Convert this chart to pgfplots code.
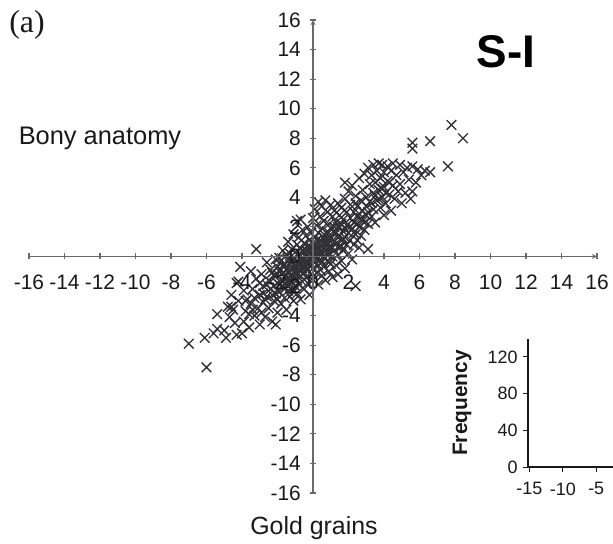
\documentclass[border=0pt]{standalone}
\usepackage{pgfplots}
\pgfplotsset{compat=1.18}
\usepackage{fontspec}
\setmainfont{Liberation Sans}
\newfontfamily\seriffont{Liberation Serif}
\definecolor{axisgray}{RGB}{105,105,105}
\definecolor{markgray}{RGB}{48,48,54}
\definecolor{textdark}{RGB}{25,25,25}
\pgfplotstableread[row sep=\\]{
x y\\
-7.0 -5.9\\ -6.0 -7.5\\ -6.1 -5.5\\ -5.4 -3.9\\ -5.4 -4.9\\ -4.9 -5.5\\ -4.3 -5.3\\ -4.0 -5.2\\
-5.6 -5.2\\ -5.0 -5.0\\ -4.7 -4.1\\ -4.5 -3.6\\ -4.4 -4.5\\ -4.8 -3.4\\ -4.2 -3.0\\ -4.1 -0.7\\
-4.6 -2.6\\ -4.3 -1.8\\ -4.6 -3.4\\ -3.8 -3.0\\ -4.2 -1.7\\
-3.9 -4.4\\ -3.8 -3.7\\ -3.7 -2.9\\ -3.6 -4.8\\ -3.5 -3.2\\ -3.4 -2.2\\ -3.3 -4.0\\ -3.2 -1.5\\
-3.2 0.5\\ -3.1 -3.5\\ -3.0 -2.6\\ -3.0 -4.6\\ -2.9 -1.2\\ -2.8 -3.1\\ -2.8 -2.0\\ -2.7 -4.1\\
-2.6 -0.4\\ -2.6 -2.7\\ -2.5 -1.6\\ -2.5 -3.5\\ -2.4 -0.9\\ -2.4 -2.2\\ -2.3 -4.4\\ -2.2 -1.3\\
-2.2 -3.0\\ -2.1 -0.2\\ -2.1 -2.5\\ -2.0 -1.8\\ -2.0 -3.8\\ -2.0 -0.7\\ -2.7 -2.9\\ -2.1 -4.6\\
-1.5 -3.6\\ -1.2 -2.2\\ -3.5 -1.0\\ -3.3 -2.8\\ -2.9 -3.8\\ -2.6 -1.9\\ -2.3 -2.6\\ -3.9 -2.3\\
-3.0 -1.8\\ -3.4 -3.6\\ -2.8 -2.5\\ -3.6 -3.9\\
-1.9 -1.0\\ -1.9 -2.4\\ -1.8 -0.3\\ -1.8 -1.6\\ -1.8 -3.2\\ -1.7 0.4\\ -1.7 -2.0\\ -1.7 -1.1\\
-1.6 -0.6\\ -1.6 -2.8\\ -1.6 -1.4\\ -1.5 0.1\\ -1.5 -1.9\\ -1.5 -0.9\\ -1.4 -2.3\\ -1.4 -0.2\\
-1.4 1.0\\ -1.3 -1.3\\ -1.3 -2.7\\ -1.3 -0.5\\ -1.2 0.5\\ -1.2 -1.7\\ -1.2 -0.9\\ -1.1 -0.1\\
-1.1 -3.0\\ -1.1 -1.4\\ -1.1 1.5\\ -1.0 -0.6\\ -1.0 -2.0\\ -1.0 0.3\\ -1.0 -1.1\\
-2.3 -1.1\\ -2.0 -2.9\\ -1.9 -0.1\\ -1.6 -2.2\\ -1.4 -1.0\\ -1.3 0.2\\ -1.2 -1.2\\ -1.1 -2.4\\
-2.4 -1.7\\ -2.2 -2.0\\ -2.0 -1.2\\ -1.9 -1.9\\ -1.7 -0.6\\ -1.5 -1.3\\ -1.3 -1.9\\ -1.1 -0.8\\
-1.8 -0.9\\ -1.6 -1.8\\ -1.4 -1.6\\ -1.2 -0.3\\ -1.0 -1.5\\
-0.9 2.4\\ -0.9 -1.6\\ -0.9 -0.3\\ -0.9 0.8\\ -0.9 -2.5\\ -0.8 -0.9\\ -0.8 0.1\\ -0.8 -1.9\\
-0.8 1.3\\ -0.7 2.5\\ -0.7 -0.5\\ -0.7 -1.3\\ -0.7 0.5\\ -0.7 -2.9\\ -0.6 -0.1\\ -0.6 1.8\\
-0.6 -0.8\\ -0.6 -1.7\\ -0.5 0.3\\ -0.5 -1.1\\ -0.5 0.9\\ -0.5 -2.2\\ -0.4 -0.4\\ -0.4 1.4\\
-0.4 -1.4\\ -0.4 0.0\\ -0.3 0.7\\ -0.3 -0.9\\ -0.3 2.0\\ -0.3 -1.8\\ -0.2 0.2\\ -0.2 -0.6\\
-0.2 1.1\\ -0.2 -2.6\\ -0.1 -0.2\\ -0.1 0.6\\ -0.1 -1.2\\ -0.1 1.6\\ 0.0 0.1\\ 0.0 -0.8\\
0.0 0.9\\ 0.0 -1.6\\ 0.0 2.6\\ -0.8 -0.4\\ -0.6 0.4\\ -0.4 -0.7\\ -0.2 -0.1\\ -0.1 0.3\\
-0.9 -1.2\\ -0.8 -0.6\\ -0.7 -1.0\\ -0.6 -0.3\\ -0.5 -0.6\\ -0.4 0.4\\ -0.3 -0.3\\ -0.2 0.6\\
-0.1 -0.6\\ 0.0 0.4\\ -0.9 -0.8\\ -0.5 -0.2\\ -0.3 0.3\\
0.1 3.2\\ 0.1 -0.4\\ 0.1 0.4\\ 0.1 1.3\\ 0.2 -1.1\\ 0.2 0.0\\ 0.2 2.1\\ 0.2 0.8\\
0.3 3.7\\ 0.3 -0.6\\ 0.3 1.6\\ 0.3 -1.9\\ 0.4 0.3\\ 0.4 1.1\\ 0.4 2.7\\ 0.4 -0.2\\
0.5 3.4\\ 0.5 0.7\\ 0.5 -1.3\\ 0.5 1.9\\ 0.6 0.0\\ 0.6 1.3\\ 0.6 -0.7\\ 0.6 2.4\\
0.7 3.8\\ 0.7 0.4\\ 0.7 1.0\\ 0.7 -1.6\\ 0.8 1.7\\ 0.8 -0.3\\ 0.8 0.8\\ 0.8 3.0\\
0.9 0.2\\ 0.9 1.4\\ 0.9 2.2\\ 0.9 -1.0\\ 1.0 3.5\\ 1.0 0.6\\ 1.0 -0.5\\ 1.0 1.9\\
0.2 0.5\\ 0.3 -0.1\\ 0.5 1.0\\ 0.6 0.6\\ 0.8 0.1\\ 0.9 1.1\\
0.1 -0.1\\ 0.2 1.1\\ 0.3 0.6\\ 0.4 -0.9\\ 0.5 0.2\\ 0.6 0.9\\ 0.7 1.4\\ 0.8 0.5\\ 0.9 -0.4\\
1.0 1.2\\ 0.1 0.8\\ 0.3 0.2\\ 0.5 -0.4\\ 0.7 -0.1\\ 0.9 0.6\\
1.1 1.1\\ 1.1 0.0\\ 1.1 2.7\\ 1.1 -1.4\\ 1.2 1.6\\ 1.2 0.4\\ 1.2 3.1\\ 1.3 0.9\\
1.3 -0.6\\ 1.3 2.3\\ 1.4 1.3\\ 1.4 0.1\\ 1.4 3.6\\ 1.4 -1.2\\ 1.5 2.0\\ 1.5 0.7\\
1.5 2.8\\ 1.6 1.1\\ 1.6 -0.3\\ 1.6 3.3\\ 1.7 1.7\\ 1.7 0.4\\ 1.7 2.5\\ 1.8 5.0\\
1.8 1.3\\ 1.8 -0.8\\ 1.8 3.9\\ 1.9 2.1\\ 1.9 0.8\\ 1.9 3.0\\ 2.0 1.6\\ 2.0 4.4\\ 2.0 0.2\\
1.2 2.0\\ 1.4 0.6\\ 1.6 2.2\\ 1.8 1.9\\ 1.1 0.6\\ 1.2 1.0\\ 1.3 1.6\\ 1.4 2.0\\ 1.5 1.4\\
1.6 0.7\\ 1.7 1.2\\
2.1 2.6\\ 2.1 3.5\\ 2.1 1.1\\ 2.2 -0.2\\ 2.2 1.9\\ 2.2 4.8\\ 2.3 3.0\\ 2.3 0.8\\
2.3 2.3\\ 2.4 -2.0\\ 2.4 4.1\\ 2.4 1.5\\ 2.5 1.1\\ 2.5 3.4\\ 2.5 2.7\\ 2.6 5.3\\
2.6 0.6\\ 2.6 2.0\\ 2.7 3.8\\ 2.7 1.4\\ 2.8 4.5\\ 2.8 2.4\\ 2.8 3.1\\ 2.9 5.6\\
2.9 1.8\\ 3.0 2.8\\ 3.0 4.0\\ 3.0 3.4\\ 2.4 3.6\\ 2.6 2.9\\
2.1 2.0\\ 2.3 1.6\\ 2.5 2.2\\ 2.7 2.6\\ 2.9 2.3\\
3.1 0.5\\ 3.1 6.0\\ 3.1 2.2\\ 3.2 4.9\\ 3.2 3.7\\ 3.3 5.5\\ 3.3 2.7\\ 3.4 4.3\\
3.4 6.2\\ 3.4 3.2\\ 3.5 5.0\\ 3.5 2.3\\ 3.6 5.8\\ 3.6 3.8\\ 3.7 4.5\\ 3.7 6.3\\
3.8 3.3\\ 3.8 5.3\\ 3.9 6.2\\ 3.9 4.0\\ 4.0 2.8\\ 4.0 5.7\\ 4.0 4.7\\
3.1 3.0\\ 3.3 3.6\\ 3.5 4.1\\ 3.7 3.9\\ 3.9 4.6\\
4.1 3.6\\ 4.2 6.1\\ 4.2 5.1\\ 4.3 4.2\\ 4.4 5.8\\ 4.4 3.1\\ 4.5 6.3\\ 4.5 4.8\\
4.6 3.9\\ 4.7 5.5\\ 4.8 4.4\\ 4.9 6.2\\ 4.9 4.9\\ 5.0 3.6\\ 5.1 5.7\\ 5.2 4.3\\
5.3 6.0\\ 5.4 5.2\\ 5.5 3.9\\ 5.6 4.4\\ 5.6 6.1\\ 5.8 5.0\\ 5.9 5.9\\ 4.1 4.3\\ 4.3 5.0\\
6.1 5.5\\ 6.3 5.8\\ 6.6 5.7\\ 7.6 6.1\\ 5.6 7.7\\ 5.6 7.3\\ 6.6 7.8\\ 7.8 8.9\\ 8.45 8.0\\
}\scatterdata
\pgfplotsset{
  common/.style={
    scale only axis,
    axis line style={-, draw=axisgray, line width=1.3bp},
    tick align=outside,
    major tick length=6bp,
    tick style={draw=axisgray, line width=1.1bp},
    /pgf/number format/assume math mode=true,
    clip=false,
  }
}
\begin{document}
\begin{tikzpicture}
\useasboundingbox (0bp,0bp) rectangle (613bp,544bp);
% data
\begin{axis}[
  at={(29bp,51bp)}, anchor=south west,
  scale only axis, width=568bp, height=473bp,
  xmin=-16, xmax=16, ymin=-16, ymax=16,
  axis lines=none, clip=false,
]
\addplot[only marks, mark=x, mark size=6.8bp, draw=markgray, mark options={line width=1.35bp}] table {\scatterdata};
\end{axis}
% x axis: its bottom edge lies at y = 0 of the data axis
\begin{axis}[common,
  at={(29bp,287.5bp)}, anchor=south west,
  width=568bp, height=236.5bp,
  xmin=-16, xmax=16, ymin=0, ymax=16,
  axis x line=bottom, axis y line=none,
  xtick={-16,-14,...,16}, ytick=\empty,
  xticklabel style={font=\fontsize{21}{21}\selectfont, text=textdark, inner sep=1bp, yshift=-14bp},
]
\end{axis}
% y axis: its left edge lies at x = 0 of the data axis
\begin{axis}[common,
  at={(313bp,51bp)}, anchor=south west,
  width=284bp, height=473bp,
  xmin=0, xmax=16, ymin=-16, ymax=16,
  axis y line=left, axis x line=none,
  ytick={-16,-14,...,16}, xtick=\empty,
  yticklabel style={font=\fontsize{21}{21}\selectfont, text=textdark, inner sep=1bp, xshift=-8bp},
]
\end{axis}
% inset frequency axes
\begin{axis}[
  at={(528bp,77bp)}, anchor=south west,
  scale only axis, width=100bp, height=128.4bp,
  xmin=-15.2, xmax=-0.25, ymin=0, ymax=140,
  axis x line=bottom, axis y line=left,
  axis line style={-, draw=textdark, line width=1.1bp},
  xtick={-15,-10,-5}, ytick={0,40,80,120},
  tick align=outside, major tick length=5bp,
  tick style={draw=textdark, line width=1bp},
  /pgf/number format/assume math mode=true,
  xticklabel style={font=\fontsize{18}{18}\selectfont, text=textdark, yshift=-7bp},
  yticklabel style={font=\fontsize{18}{18}\selectfont, text=textdark, xshift=-2bp},
]
\end{axis}
\node[font=\seriffont\fontsize{32}{32}\selectfont, text=textdark] at (27bp,519bp) {(a)};
\node[font=\fontsize{25.5}{25.5}\selectfont, text=textdark] at (100bp,406bp) {Bony anatomy};
\node[font=\bfseries\fontsize{46}{46}\selectfont, text=black] at (506bp,492bp) {S-I};
\node[font=\fontsize{25}{25}\selectfont, text=textdark] at (314bp,16bp) {Gold grains};
\node[font=\bfseries\fontsize{21}{21}\selectfont, text=textdark, rotate=90] at (462bp,141bp) {Frequency};
\end{tikzpicture}
\end{document}
